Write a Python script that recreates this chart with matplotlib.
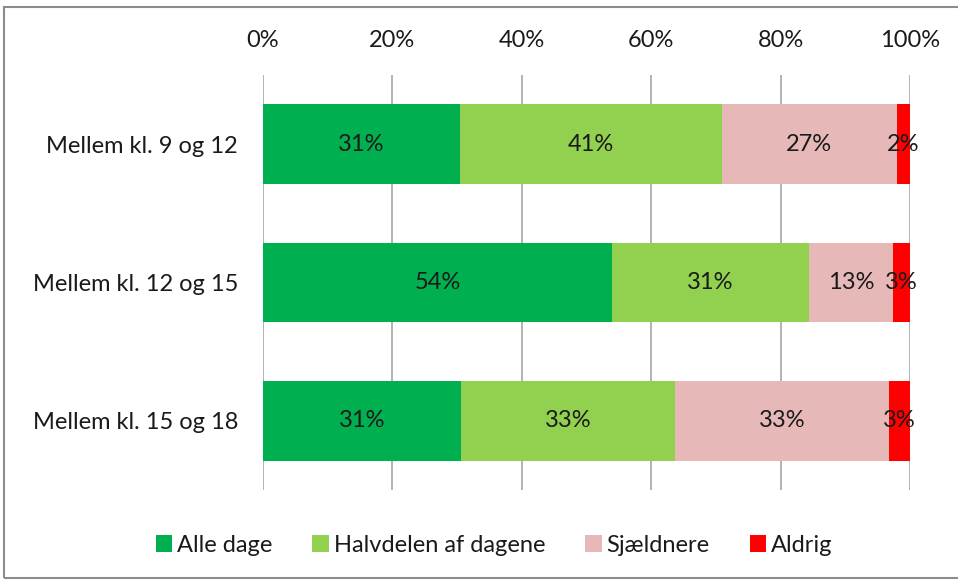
import matplotlib
matplotlib.use("Agg")
import matplotlib.pyplot as plt
from matplotlib.patches import Rectangle
import numpy as np

plt.rcParams['font.family'] = ['Lato', 'DejaVu Sans']

categories = ["Mellem kl. 9 og 12", "Mellem kl. 12 og 15", "Mellem kl. 15 og 18"]
series = ["Alle dage", "Halvdelen af dagene", "Sjældnere", "Aldrig"]
alle_dage = [30.6, 53.9, 30.6]
halvdelen = [40.7, 30.5, 33.1]
sjaeldnere = [27.3, 13.0, 33.1]
aldrig = [2.0, 2.6, 3.2]
labels = [["31%", "54%", "31%"], ["41%", "31%", "33%"], ["27%", "13%", "33%"], ["2%", "3%", "3%"]]
colors = ["#00B050", "#92D050", "#E6B9B8", "#FF0000"]
ticks = [0, 20, 40, 60, 80, 100]

W, H = 958, 580
fig = plt.figure(figsize=(W / 100, H / 100), dpi=100)
fig.patches.append(Rectangle((4 / W, 2 / H), 960 / W, 571 / H, transform=fig.transFigure,
                             fill=False, edgecolor="#8c8c8c", linewidth=1.5))
ax = fig.add_axes([263 / W, 1 - 490 / H, 647 / W, 415 / H])

data = np.array([alle_dage, halvdelen, sjaeldnere, aldrig])
tot = data.sum(axis=0)
pct = data / tot * 100
y = np.arange(len(categories))
left = np.zeros(len(categories))
for i, name in enumerate(series):
    bars = ax.barh(y, pct[i], left=left, height=0.575, color=colors[i], label=name, zorder=2)
    for j, b in enumerate(bars):
        ax.text(left[j] + pct[i][j] / 2, y[j], labels[i][j], ha="center", va="center",
                fontsize=17, color="#1a1a1a", zorder=3)
    left += pct[i]

ax.set_xlim(0, 100)
ax.set_ylim(2.5, -0.5)
ax.set_xticks(ticks)
ax.set_xticklabels([f"{t}%" for t in ticks])
ax.xaxis.tick_top()
ax.tick_params(axis="x", length=0, pad=17, labelsize=17, colors="#1a1a1a")
ax.set_yticks(y)
ax.set_yticklabels(categories)
ax.tick_params(axis="y", length=0, pad=18, labelsize=17, colors="#1a1a1a")
ax.grid(axis="x", color="#a6a6a6", linewidth=1.2, zorder=0)
for s in ax.spines.values():
    s.set_visible(False)

fig.legend(loc="center", bbox_to_anchor=(494 / W, 1 - 545 / H), ncol=4, frameon=False,
           fontsize=17, handlelength=0.7, handleheight=0.7, handletextpad=0.2,
           columnspacing=1.7, labelcolor="#1a1a1a")

fig.savefig("out.png", dpi=100)
